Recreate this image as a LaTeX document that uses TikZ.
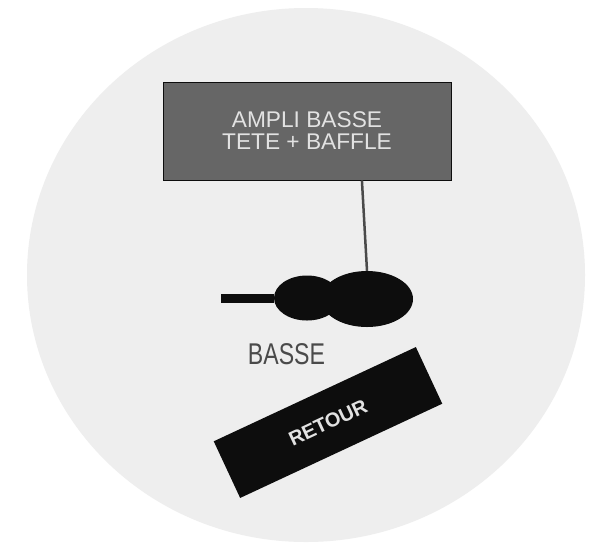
\documentclass[tikz,border=0pt]{standalone}
\usepackage{fontspec}
\setmainfont{Liberation Sans}
\usetikzlibrary{shapes.geometric}
\definecolor{StageGray}{HTML}{EEEEEE}
\definecolor{AmpGray}  {HTML}{666666}
\definecolor{LabelGray}{HTML}{E2E2E2}
\definecolor{WireGray} {HTML}{4A4A4A}
\definecolor{InkBlack} {HTML}{0D0D0D}
\tikzset{
  stage/.style={ellipse,fill=StageGray,minimum width=558pt,minimum height=534pt,inner sep=0pt},
  ampbox/.style={rectangle,draw=InkBlack,line width=0.9pt,fill=AmpGray,minimum width=288pt,
                 minimum height=98pt,align=center,text=LabelGray,
                 font=\fontsize{22.7}{22}\selectfont},
  bulge/.style={ellipse,fill=InkBlack,inner sep=0pt},
  wire/.style={WireGray,line width=2.5pt},
  neck/.style={InkBlack,line width=9pt},
  wedge/.style={rectangle,fill=InkBlack,minimum width=223pt,minimum height=62.5pt,
                text=LabelGray,font=\bfseries\fontsize{20}{20}\selectfont},
}
\begin{document}
\begin{tikzpicture}[x=1pt,y=-1pt]

  \useasboundingbox[fill=white] (0,0) rectangle (607,542);

  \node[stage] (STAGE) at (306,275) {};

  \node[ampbox] (AMP) at (307,131) {AMPLI BASSE\\[0pt]TETE + BAFFLE};

  \node[bulge,minimum width=66pt,minimum height=45pt] (BODYL) at (307,298) {};
  \node[bulge,minimum width=92pt,minimum height=56pt] (BODYR) at (367,299) {};
  \coordinate (NECKEND) at (221,298);

  \draw[wire] (AMP.-42.2) -- (BODYR.north);
  \draw[neck] (NECKEND) -- (BODYL.west);

  \node[text=WireGray,font=\fontsize{30}{30}\selectfont,xscale=0.77,inner sep=0pt] (BASSE) at (286.5,354) {BASSE};

  \node[wedge,rotate=25] (RETOUR) at (328,422.5) {RETOUR};

\end{tikzpicture}
\end{document}
